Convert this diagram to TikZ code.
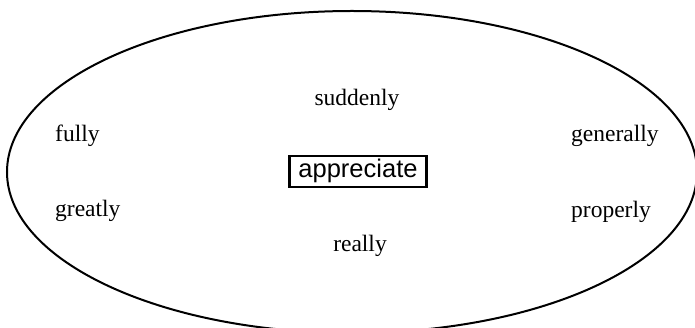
\documentclass[tikz,border=0pt]{standalone}
\usepackage{fontspec}
\setmainfont{Liberation Serif}
\setsansfont{Liberation Sans}
\usepackage{tikz}
\usetikzlibrary{positioning, calc}

\begin{document}
\begin{tikzpicture}[
    x=1pt, y=-1pt,
    word/.style={inner sep=0pt, font=\fontsize{23.5}{26}\selectfont},
    headword/.style={draw, line width=2.2pt, rectangle, inner sep=0pt,
      minimum width=137pt, text height=22pt, text depth=9pt,
      font=\sffamily\fontsize{25.5}{28}\selectfont},
    ring/.style={line width=2pt}
]
\useasboundingbox (0,0) rectangle (695,328);
\clip (0,0) rectangle (695,328);
\draw[ring] (352,172) ellipse [x radius=345pt, y radius=161pt];

\node[headword, anchor=base] (head) at (358,178) {appreciate};
\node[word, anchor=base] (suddenly) at (357,106) {suddenly};
\node[word, anchor=base] (really) at (360,252) {really};
\node[word, anchor=base west] (fully) at (55,142) {fully};
\node[word, anchor=base west] (greatly) at (55,217) {greatly};
\node[word, anchor=base west] (generally) at (571,142) {generally};
\node[word, anchor=base west] (properly) at (571,218) {properly};
\end{tikzpicture}
\end{document}
